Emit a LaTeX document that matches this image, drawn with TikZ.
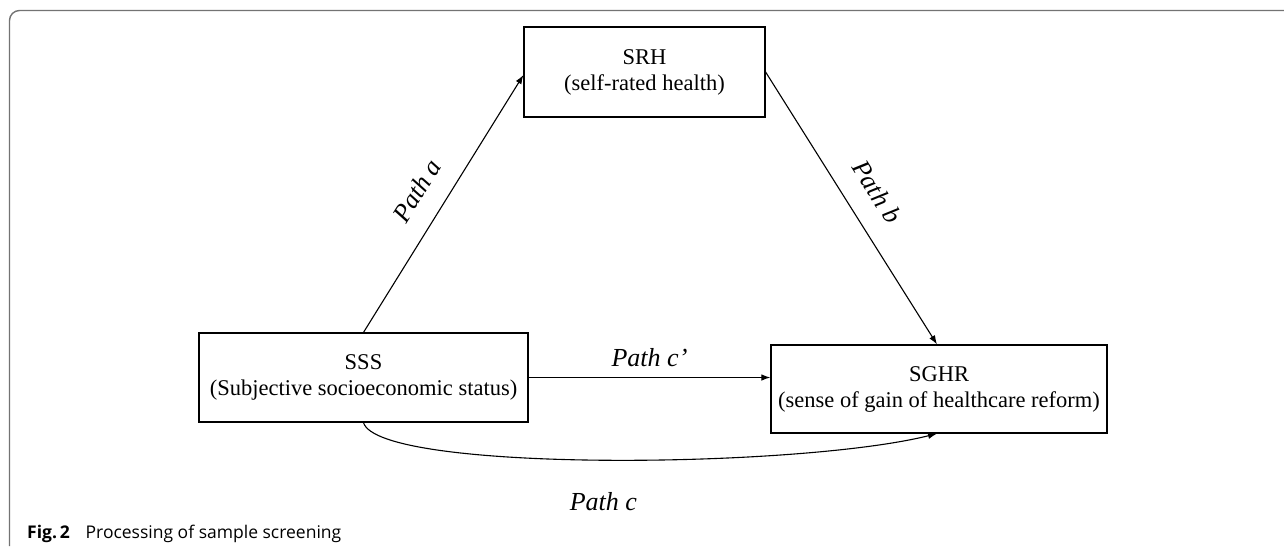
\documentclass[tikz,border=0pt]{standalone}
\usepackage{fontspec}
\setmainfont{Liberation Serif}
\newfontfamily\capfont{Open Sans}
\usetikzlibrary{arrows.meta,calc}
\begin{document}
\begin{tikzpicture}[x=1pt,y=-1pt,
  box/.style={draw=black,line width=1.2pt,inner sep=0pt,align=center,
    font=\fontsize{22.5}{26}\selectfont},
  conn/.style={line width=1.1pt,-{Latex[length=9pt,width=6.5pt]}},
  plabel/.style={font=\fontsize{26}{30}\selectfont\itshape,inner sep=0pt},
  frame/.style={draw=black!55,line width=1.4pt,rounded corners=10pt}]
\useasboundingbox (0,0) rectangle (1284,546);
\draw[frame] (9.5,546) -- (9.5,10.5) -- (1284,10.5);
\node[box,minimum width=241pt,minimum height=90pt] (srh) at (644.5,72) {SRH\\(self-rated health)};
\node[box,minimum width=329pt,minimum height=89pt] (sss) at (363.5,377.5) {SSS\\(Subjective socioeconomic status)};
\node[box,minimum width=336pt,minimum height=88pt] (sghr) at (939,389) {SGHR\\(sense of gain of healthcare reform)};
\draw[conn] (sss.north) -- node[plabel,pos=0.49,sloped,above=20pt] {Path a} ([yshift=-3pt]srh.west);
\draw[conn] (srh.east) -- node[plabel,pos=0.5,sloped,above=21pt] {Path b} ([xshift=-2pt]sghr.north);
\draw[conn] (sss.east) -- node[plabel,midway,above=10pt] {Path c’} (sss.east -| sghr.west);
\draw[conn] (sss.south) .. controls +(15,50) and +(-140,35) .. node[plabel,pos=0.5,yshift=-42pt] {Path c} ([xshift=-2pt]sghr.south);
\node[anchor=west,inner sep=0pt,font=\capfont\fontsize{17.5}{20}\selectfont] (cap) at (27,534) {\textbf{Fig.\,2}\hspace{0.9em}Processing of sample screening};
\end{tikzpicture}
\end{document}
